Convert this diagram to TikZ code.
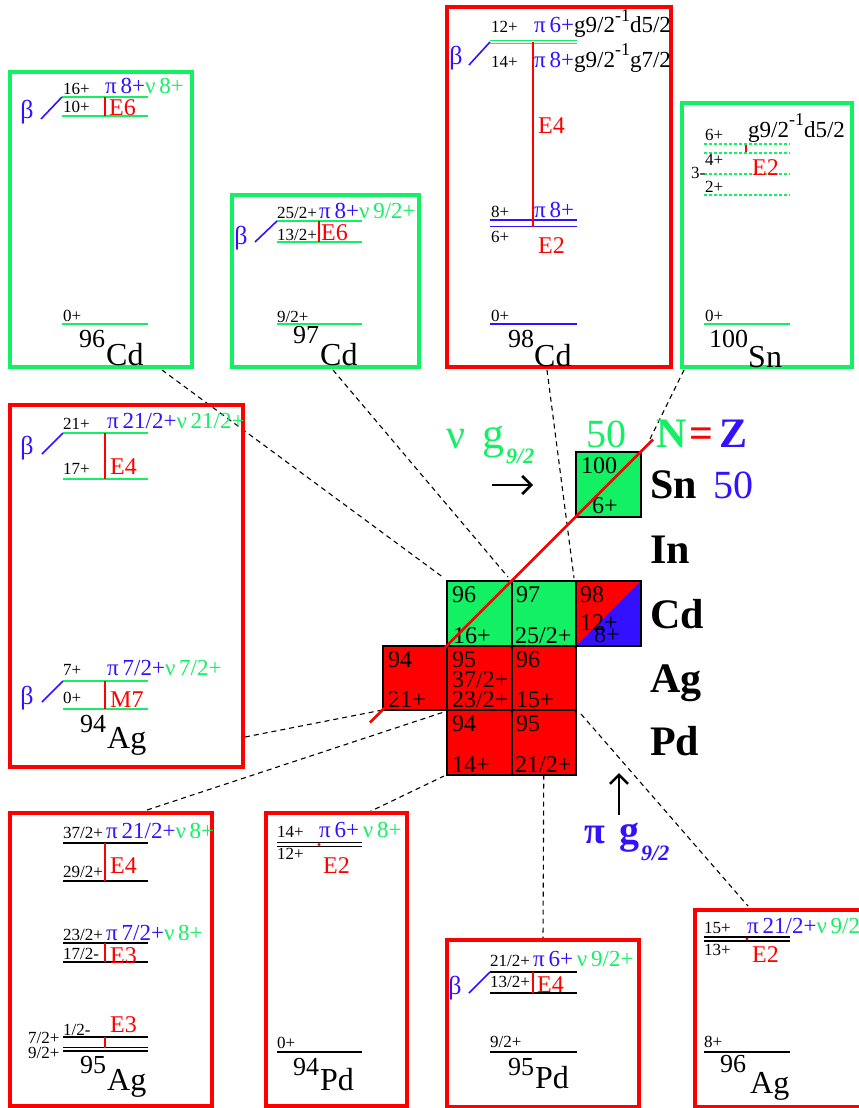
\documentclass[tikz,border=0pt]{standalone}
\usepackage{fontspec}
\setmainfont{Liberation Serif}
\usetikzlibrary{arrows.meta}
\definecolor{gr}{RGB}{20,240,100}
\definecolor{bl}{RGB}{51,17,255}
\newcommand{\myinv}{\raisebox{0.5em}{\fontsize{18}{18}\selectfont -1}}
\newcommand{\pcol}[1]{\textcolor{bl}{π\,#1}}
\newcommand{\ncol}[1]{\textcolor{gr}{ν\,#1}}
\begin{document}
\begin{tikzpicture}[x=1pt,y=-1pt,
  lv/.style={font=\fontsize{17}{17}\selectfont, inner sep=0pt, anchor=base west},
  cf/.style={font=\fontsize{23}{23}\selectfont, inner sep=0pt, anchor=base west},
  tr/.style={font=\fontsize{24}{24}\selectfont, text=red, inner sep=0pt, anchor=base west},
  ms/.style={font=\fontsize{26}{26}\selectfont, inner sep=0pt, anchor=base west},
  el/.style={font=\fontsize{32}{32}\selectfont, inner sep=0pt, anchor=base west},
  bt/.style={font=\fontsize{26}{26}\selectfont, text=bl, inner sep=0pt, anchor=center},
  ct/.style={font=\fontsize{24}{24}\selectfont, inner sep=0pt, anchor=base west},
  elem/.style={font=\fontsize{42}{42}\selectfont\bfseries, inner sep=0pt, anchor=base west},
  gframe/.style={draw=gr, line width=4.5pt},
  rframe/.style={draw=red, line width=4.5pt},
  lvl/.style={line width=2pt},
  dlvl/.style={line width=1.8pt},
  dashlvl/.style={draw=gr, line width=1.3pt, dash pattern=on 3pt off 2pt},
  tline/.style={draw=red, line width=1.6pt},
  bline/.style={draw=bl, line width=1.6pt},
  cell/.style={draw=black, line width=2pt, minimum width=64.5pt, minimum height=64.5pt, inner sep=0pt, outer sep=0pt},
  conn/.style={draw=black, line width=1.1pt, dash pattern=on 5pt off 4pt},
  bigarrow/.style={draw=black, line width=2.6pt, -{Straight Barb[length=9pt,width=18pt,line width=2.6pt]}}
]
\useasboundingbox (0,0) rectangle (859,1108);

% ---------- central chart cells ----------
\node[cell, fill=gr] (Sn100) at (608.25,484.25) {};
\node[cell, fill=gr] (Cd96) at (479.25,613.25) {};
\node[cell, fill=gr] (Cd97) at (543.75,613.25) {};
\node[cell] (Cd98) at (608.25,613.25) {};
\node[cell, fill=red] (Ag94) at (414.75,677.75) {};
\node[cell, fill=red] (Ag95) at (479.25,677.75) {};
\node[cell, fill=red] (Ag96) at (543.75,677.75) {};
\node[cell, fill=red] (Pd94) at (479.25,742.25) {};
\node[cell, fill=red] (Pd95) at (543.75,742.25) {};
\fill[red] (Cd98.south west) -- (Cd98.north west) -- (Cd98.north east) -- cycle;
\fill[bl] (Cd98.south west) -- (Cd98.south east) -- (Cd98.north east) -- cycle;
\draw[line width=2pt] (Cd98.south west) rectangle (Cd98.north east);

% ---------- dashed connectors ----------
\coordinate (kA) at (162,370);
\coordinate (kA2) at (444,578);
\coordinate (kB) at (333,370);
\coordinate (kB2) at (508,577);
\coordinate (kC) at (547,370);
\coordinate (kC2) at (574,578);
\coordinate (kD) at (684,370);
\coordinate (kD2) at (650,439);
\coordinate (kE) at (245,737);
\coordinate (kF) at (147,810);
\coordinate (kF2) at (444,712);
\coordinate (kG) at (367,813);
\coordinate (kG2) at (444,776);
\coordinate (kH) at (543,940);
\coordinate (kI) at (748,906);
\coordinate (kI2) at (581,714);
\draw[conn] (kA) -- (kA2);
\draw[conn] (kB) -- (kB2);
\draw[conn] (kC) -- (kC2);
\draw[conn] (kD) -- (kD2);
\draw[conn] (kE) -- (Ag94.south west);
\draw[conn] (kF) -- (kF2);
\draw[conn] (kG) -- (kG2);
\draw[conn] (Pd95.south) -- (kH);
\draw[conn] (kI2) -- (kI);

% ---------- cell texts ----------
\node[ct] (t1) at (581,473) {100};
\node[ct] (t2) at (592,513) {6+};
\node[ct] (t3) at (452,602) {96};
\node[ct] (t4) at (453,643) {16+};
\node[ct] (t5) at (516,602) {97};
\node[ct] (t6) at (515,643) {25/2+};
\node[ct] (t7) at (580,602) {98};
\node[ct] (t8) at (580,630) {12+};
\node[ct] (t9) at (594,642) {8+};
\node[ct] (t10) at (388,667) {94};
\node[ct] (t11) at (388,707) {21+};
\node[ct] (t12) at (452,667) {95};
\node[ct] (t13) at (452,687) {37/2+};
\node[ct] (t14) at (452,707) {23/2+};
\node[ct] (t15) at (516,667) {96};
\node[ct] (t16) at (516,707) {15+};
\node[ct] (t17) at (452,731) {94};
\node[ct] (t18) at (452,772) {14+};
\node[ct] (t19) at (516,731) {95};
\node[ct] (t20) at (515,772) {21/2+};

% N=Z line
\coordinate (nz1) at (370,722.5);
\coordinate (nz2) at (653,439.5);
\draw[red, line width=2.8pt] (nz1) -- (nz2);

% element labels
\node[elem] (eSn) at (650,498) {Sn};
\node[elem] (eIn) at (650,563) {In};
\node[elem] (eCd) at (650,628) {Cd};
\node[elem] (eAg) at (650,692) {Ag};
\node[elem] (ePd) at (650,755) {Pd};
\node[font=\fontsize{40}{40}\selectfont, text=bl, inner sep=0pt, anchor=base west] (z50) at (713,498) {50};
\node[font=\fontsize{40}{40}\selectfont, text=gr, inner sep=0pt, anchor=base west] (n50) at (586,447) {50};
\node[font=\fontsize{42}{42}\selectfont\bfseries, inner sep=0pt, anchor=base west] (nNZ) at (656,447) {\textcolor{gr}{N}\hspace{3pt}\textcolor{red}{=}\hspace{6pt}\textcolor{bl}{Z}};
\node[font=\fontsize{42}{42}\selectfont, text=gr, inner sep=0pt, anchor=base west] (nu1) at (446,448) {ν};
\node[font=\fontsize{44}{44}\selectfont, text=gr, inner sep=0pt, anchor=base west] (nu2) at (482,448) {g};
\node[font=\fontsize{22}{22}\selectfont\bfseries\itshape, text=gr, inner sep=0pt, anchor=base west] (nu3) at (506,463) {9/2};
\coordinate (ar1) at (492,485);
\coordinate (ar2) at (533,485);
\draw[bigarrow] (ar1) -- (ar2);
\coordinate (ar3) at (619,815);
\coordinate (ar4) at (619,773);
\draw[bigarrow] (ar3) -- (ar4);
\node[font=\fontsize{38}{38}\selectfont\bfseries, text=bl, inner sep=0pt, anchor=base west] (pi1) at (584,843) {π};
\node[font=\fontsize{40}{40}\selectfont\bfseries, text=bl, inner sep=0pt, anchor=base west] (pi2) at (619,843) {g};
\node[font=\fontsize{22}{22}\selectfont\bfseries\itshape, text=bl, inner sep=0pt, anchor=base west] (pi3) at (641,860) {9/2};

% ---------- Box A: 96Cd ----------
\draw[gframe] (10,72) rectangle (192,367);
\draw[lvl,gr] (62,97) -- (148,97);
\draw[lvl,gr] (62,116) -- (148,116);
\draw[lvl,gr] (62,324) -- (148,324);
\draw[tline] (105,97) -- (105,116);
\draw[bline] (41,119) -- (62,97);
\node[bt] (a1) at (27,112) {β};
\node[lv] (a2) at (63,94) {16+};
\node[lv] (a3) at (63,112) {10+};
\node[cf] (a4) at (105,93) {\pcol{8+}\ncol{8+}};
\node[tr] (a5) at (109,115) {E6};
\node[lv] (a6) at (63,321) {0+};
\node[ms] (a7) at (79,347) {96};
\node[el] (a8) at (106,365) {Cd};

% ---------- Box B: 97Cd ----------
\draw[gframe] (232,195) rectangle (419,367);
\draw[lvl,gr] (277,221) -- (362,221);
\draw[lvl,gr] (277,242) -- (362,242);
\draw[lvl,gr] (277,324) -- (362,324);
\draw[tline, line width=2.5pt] (319,221) -- (319,242);
\draw[bline] (255,242) -- (277,221);
\node[bt] (b1) at (241,238) {β};
\node[lv] (b2) at (277,218) {25/2+};
\node[lv] (b3) at (277,240) {13/2+};
\node[cf] (b4) at (319,218) {\pcol{8+}\ncol{9/2+}};
\node[tr] (b5) at (321,240) {E6};
\node[lv] (b6) at (277,322) {9/2+};
\node[ms] (b7) at (293,343) {97};
\node[el] (b8) at (320,365) {Cd};

% ---------- Box C: 98Cd ----------
\draw[rframe] (447,7) rectangle (671,367);
\draw[dlvl,gr] (490,40.5) -- (577,40.5);
\draw[dlvl,gr] (490,43.5) -- (577,43.5);
\draw[dlvl,bl] (490,220) -- (577,220);
\draw[dlvl,bl] (490,226.5) -- (577,226.5);
\draw[lvl,bl] (490,324) -- (577,324);
\draw[tline] (533,42) -- (533,226.5);
\draw[bline] (469,65) -- (490,42);
\node[bt] (c1) at (456,58) {β};
\node[lv] (c2) at (491,33) {12+};
\node[cf] (c3) at (534,33) {\pcol{6+}g9/2\myinv d5/2};
\node[lv] (c4) at (491,67) {14+};
\node[cf] (c5) at (534,67) {\pcol{8+}g9/2\myinv g7/2};
\node[lv] (c6) at (491,217) {8+};
\node[cf] (c7) at (534,217) {\pcol{8+}};
\node[lv] (c8) at (491,242) {6+};
\node[tr] (c9) at (538,133) {E4};
\node[tr] (c10) at (538,253) {E2};
\node[lv] (c11) at (491,321) {0+};
\node[ms] (c12) at (508,347) {98};
\node[el] (c13) at (534,366) {Cd};

% ---------- Box D: 100Sn ----------
\draw[gframe] (682,103) rectangle (852,367);
\draw[dashlvl] (704,144) -- (790,144);
\draw[dashlvl] (704,153) -- (790,153);
\draw[dashlvl] (704,174) -- (790,174);
\draw[dashlvl] (704,195) -- (790,195);
\draw[red, line width=1.8pt] (746,145) -- (746,152);
\draw[lvl,gr] (704,324) -- (790,324);
\node[lv] (d1) at (705,140) {6+};
\node[cf] (d2) at (748,137) {g9/2\myinv d5/2};
\node[lv] (d3) at (705,165) {4+};
\node[lv] (d4) at (691,178) {3-};
\node[lv] (d5) at (705,192) {2+};
\node[tr] (d6) at (752,175) {E2};
\node[lv] (d7) at (705,321) {0+};
\node[ms] (d8) at (709,347) {100};
\node[el] (d9) at (748,367) {Sn};

% ---------- Box E: 94Ag ----------
\draw[rframe] (10,405) rectangle (243,767);
\draw[lvl,gr] (63,433) -- (148,433);
\draw[lvl,gr] (63,479) -- (148,479);
\draw[lvl,gr] (63,681) -- (148,681);
\draw[lvl,gr] (63,709) -- (148,709);
\draw[tline] (105,433) -- (105,479);
\draw[tline] (105,681) -- (105,709);
\draw[bline] (42,454) -- (63,433);
\draw[bline] (42,702) -- (63,681);
\node[bt] (e1) at (27,448) {β};
\node[bt] (e2) at (27,698) {β};
\node[lv] (e3) at (63,429) {21+};
\node[cf] (e4) at (107,428) {\pcol{21/2+}\ncol{21/2+}};
\node[lv] (e5) at (63,474) {17+};
\node[tr] (e6) at (110,474) {E4};
\node[lv] (e7) at (63,675) {7+};
\node[cf] (e8) at (107,675) {\pcol{7/2+}\ncol{7/2+}};
\node[lv] (e9) at (63,703) {0+};
\node[tr] (e10) at (110,707) {M7};
\node[ms] (e11) at (80,732) {94};
\node[el] (e12) at (107,748) {Ag};

% ---------- Box F: 95Ag ----------
\draw[rframe] (10,813) rectangle (212,1106);
\draw[lvl] (63,843) -- (148,843);
\draw[lvl] (63,881) -- (148,881);
\draw[lvl] (63,943) -- (148,943);
\draw[lvl] (63,962) -- (148,962);
\draw[lvl] (63,1037) -- (148,1037);
\draw[dlvl] (63,1047.5) -- (148,1047.5);
\draw[dlvl] (63,1051) -- (148,1051);
\draw[tline] (105,843) -- (105,881);
\draw[tline] (105,943) -- (105,962);
\draw[tline] (105,1037) -- (105,1047.5);
\node[lv] (f1) at (63,838) {37/2+};
\node[cf] (f2) at (106,838) {\pcol{21/2+}\ncol{8+}};
\node[lv] (f3) at (63,877) {29/2+};
\node[tr] (f4) at (110,873) {E4};
\node[lv] (f5) at (63,940) {23/2+};
\node[cf] (f6) at (106,940) {\pcol{7/2+}\ncol{8+}};
\node[lv] (f7) at (63,959) {17/2-};
\node[tr] (f8) at (110,963) {E3};
\node[tr] (f9) at (110,1032) {E3};
\node[lv] (f10) at (63,1035) {1/2-};
\node[lv] (f11) at (28,1043) {7/2+};
\node[lv] (f12) at (28,1058) {9/2+};
\node[ms] (f13) at (80,1073) {95};
\node[el] (f14) at (107,1090) {Ag};

% ---------- Box G: 94Pd ----------
\draw[rframe] (266,813) rectangle (407,1106);
\draw[dlvl] (277,842.5) -- (362,842.5);
\draw[dlvl] (277,846.5) -- (362,846.5);
\fill[red] (319,844.5) circle (1.7pt);
\draw[lvl] (277,1052) -- (362,1052);
\node[lv] (g1) at (277,837) {14+};
\node[cf] (g2) at (319,837) {\pcol{6+}\,\ncol{8+}};
\node[lv] (g3) at (277,859) {12+};
\node[tr] (g4) at (323,873) {E2};
\node[lv] (g5) at (277,1048) {0+};
\node[ms] (g6) at (293,1075) {94};
\node[el] (g7) at (320,1090) {Pd};

% ---------- Box H: 95Pd ----------
\draw[rframe] (447,940) rectangle (639,1107);
\draw[lvl] (490,972) -- (577,972);
\draw[lvl] (490,993) -- (577,993);
\draw[lvl] (490,1052) -- (577,1052);
\draw[tline, line width=2.5pt] (533,972) -- (533,993);
\draw[bline] (469,993) -- (490,972);
\node[bt] (h1) at (455,988) {β};
\node[lv] (h2) at (490,966) {21/2+};
\node[cf] (h3) at (533,966) {\pcol{6+}\,\ncol{9/2+}};
\node[lv] (h4) at (490,987) {13/2+};
\node[tr] (h5) at (537,992) {E4};
\node[lv] (h6) at (490,1047) {9/2+};
\node[ms] (h7) at (508,1075) {95};
\node[el] (h8) at (535,1088) {Pd};

% ---------- Box I: 96Ag ----------
\draw[rframe] (695,910) rectangle (885,1107);
\draw[dlvl] (704,937) -- (790,937);
\draw[dlvl] (704,941) -- (790,941);
\fill[red] (747,939) circle (1.7pt);
\draw[lvl] (704,1052) -- (790,1052);
\node[lv] (i1) at (704,933) {15+};
\node[cf] (i2) at (747,933) {\pcol{21/2+}\ncol{9/2+}};
\node[lv] (i3) at (704,955) {13+};
\node[tr] (i4) at (752,962) {E2};
\node[lv] (i5) at (704,1047) {8+};
\node[ms] (i6) at (720,1072) {96};
\node[el] (i7) at (750,1093) {Ag};
\end{tikzpicture}
\end{document}
